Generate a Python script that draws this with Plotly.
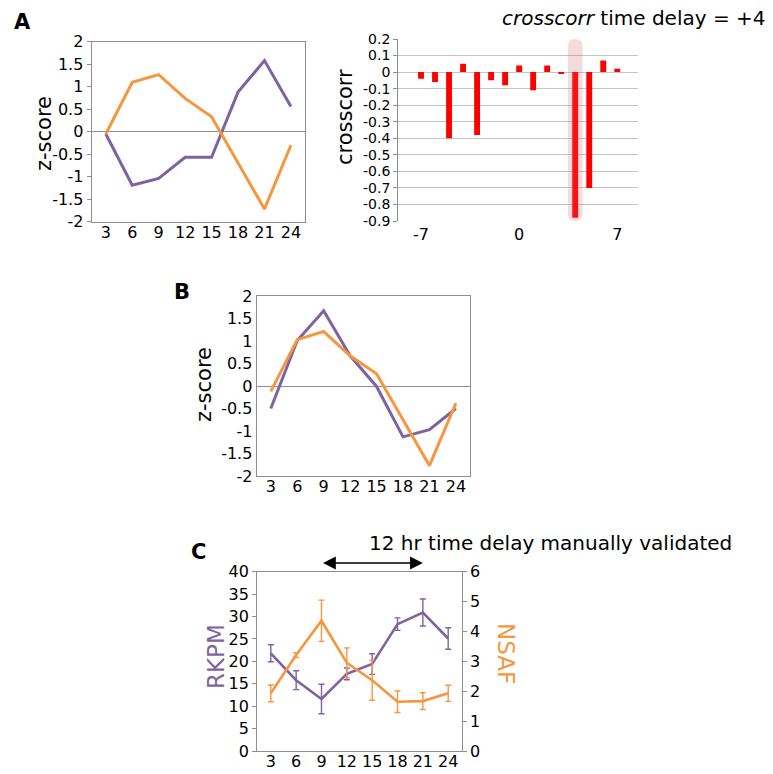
import plotly.graph_objects as go

# ---------------- data ----------------
hours = [3, 6, 9, 12, 15, 18, 21, 24]

a_purple = [-0.05, -1.19, -1.04, -0.57, -0.57, 0.88, 1.58, 0.56]
a_orange = [-0.05, 1.10, 1.27, 0.74, 0.33, -0.68, -1.72, -0.30]

lags = [-7, -6, -5, -4, -3, -2, -1, 0, 1, 2, 3, 4, 5, 6, 7]
crosscorr = [-0.04, -0.06, -0.40, 0.05, -0.38, -0.05, -0.08, 0.04,
             -0.11, 0.04, -0.01, -0.88, -0.70, 0.07, 0.02]
lag_ticks = [-7, 0, 7]
lag_ticktext = ["-7", "0", "7"]

b_purple = [-0.50, 1.01, 1.67, 0.67, -0.01, -1.13, -0.97, -0.50]
b_orange = [-0.12, 1.03, 1.21, 0.67, 0.27, -0.74, -1.77, -0.38]

rkpm = [21.8, 15.8, 11.6, 17.2, 19.4, 28.3, 30.9, 25.1]
rkpm_err = [1.9, 2.1, 3.3, 1.3, 2.3, 1.4, 3.0, 2.4]
nsaf = [1.93, 3.21, 4.36, 2.95, 2.37, 1.65, 1.67, 1.93]
nsaf_err = [0.28, 0.08, 0.69, 0.50, 0.67, 0.36, 0.28, 0.27]

z_ticks = [2, 1.5, 1, 0.5, 0, -0.5, -1, -1.5, -2]
z_ticktext = ["2", "1.5", "1", "0.5", "0", "-0.5", "-1", "-1.5", "-2"]
cc_ticks = [0.2, 0.1, 0, -0.1, -0.2, -0.3, -0.4, -0.5, -0.6, -0.7, -0.8, -0.9]
cc_ticktext = ["0.2", "0.1", "0", "-0.1", "-0.2", "-0.3", "-0.4", "-0.5",
               "-0.6", "-0.7", "-0.8", "-0.9"]

# ---------------- style ----------------
W, H = 773, 774
PURPLE = "#7f63a1"
ORANGE = "#f7963f"
AX = "#8f8f8f"
FONT = "DejaVu Sans"


def px(x):
    return x / W


def py(y):
    return 1 - y / H


fig = go.Figure()

# Panel A left
fig.add_trace(go.Scatter(x=hours, y=a_purple, mode="lines",
                         line=dict(color=PURPLE, width=3), xaxis="x", yaxis="y"))
fig.add_trace(go.Scatter(x=hours, y=a_orange, mode="lines",
                         line=dict(color=ORANGE, width=3), xaxis="x", yaxis="y"))

# Panel A right
fig.add_trace(go.Bar(x=lags, y=crosscorr, width=0.42, marker=dict(color="#ff0000", line=dict(width=0)),
                     xaxis="x2", yaxis="y2"))

# Panel B
fig.add_trace(go.Scatter(x=hours, y=b_purple, mode="lines",
                         line=dict(color=PURPLE, width=3), xaxis="x3", yaxis="y3"))
fig.add_trace(go.Scatter(x=hours, y=b_orange, mode="lines",
                         line=dict(color=ORANGE, width=3), xaxis="x3", yaxis="y3"))

# Panel C
fig.add_trace(go.Scatter(x=hours, y=rkpm, mode="lines",
                         line=dict(color=PURPLE, width=2.6),
                         error_y=dict(type="data", array=rkpm_err, color=PURPLE, thickness=1.4, width=3),
                         xaxis="x4", yaxis="y4"))
fig.add_trace(go.Scatter(x=hours, y=nsaf, mode="lines",
                         line=dict(color=ORANGE, width=2.6),
                         error_y=dict(type="data", array=nsaf_err, color=ORANGE, thickness=1.4, width=3),
                         xaxis="x4", yaxis="y5"))

tickfont = dict(family=FONT, size=16, color="black")
tickfont_cc = dict(family=FONT, size=14, color="black")
xr = [1.4, 25.6]

common_x = dict(tickvals=hours, ticks="", ticklen=0, ticklabelstandoff=-4,
                showgrid=False, zeroline=False, range=xr,
                showline=True, linecolor=AX, linewidth=1.3, mirror=True, tickfont=tickfont,
                fixedrange=True)

layout = dict(
    width=W, height=H, margin=dict(l=0, r=0, t=0, b=0, autoexpand=False),
    paper_bgcolor="white", plot_bgcolor="white", showlegend=False,
    font=dict(family=FONT, size=16, color="black"),
    # A left
    xaxis=dict(domain=[px(91.7), px(305)], anchor="y", **common_x),
    yaxis=dict(domain=[py(221.7), py(41.7)], anchor="x", range=[-2, 2],
               tickvals=z_ticks, ticktext=z_ticktext, ticks="outside", ticklen=4, tickcolor=AX,
               showgrid=False, zeroline=True, zerolinecolor=AX, zerolinewidth=1.3,
               showline=True, linecolor=AX, linewidth=1.3, mirror=True, tickfont=tickfont),
    # A right
    xaxis2=dict(domain=[px(398.3), px(638.3)], anchor="y2", range=[-8.62, 8.5],
                tickvals=lag_ticks, ticktext=lag_ticktext, ticks="", ticklen=0,
                ticklabelstandoff=2, showgrid=False,
                zeroline=False, showline=False, tickfont=tickfont),
    yaxis2=dict(domain=[py(221), py(39)], anchor="x2", range=[-0.9, 0.2],
                tickvals=cc_ticks, ticktext=cc_ticktext, ticks="outside", ticklen=4, tickcolor=AX,
                showgrid=True, gridcolor="#c4c4c4", gridwidth=1, zeroline=False,
                showline=True, linecolor=AX, linewidth=1.3, mirror=False, tickfont=tickfont_cc),
    # B
    xaxis3=dict(domain=[px(256.7), px(470)], anchor="y3", **common_x),
    yaxis3=dict(domain=[py(476), py(296)], anchor="x3", range=[-2, 2],
                tickvals=z_ticks, ticktext=z_ticktext, ticks="",
                showgrid=False, zeroline=True, zerolinecolor=AX, zerolinewidth=1.3,
                showline=True, linecolor=AX, linewidth=1.3, mirror=True, tickfont=tickfont),
    # C
    xaxis4=dict(domain=[px(257.3), px(461.7)], anchor="y4", **common_x),
    yaxis4=dict(domain=[py(751), py(571.7)], anchor="x4", range=[0, 40], dtick=5,
                ticks="outside", ticklen=4, tickcolor=AX, showgrid=False, zeroline=False,
                showline=True, linecolor=AX, linewidth=1.3, mirror=True, tickfont=tickfont),
    yaxis5=dict(overlaying="y4", side="right", anchor="x4", range=[0, 6], dtick=1,
                ticks="outside", ticklen=4, tickcolor=AX, showgrid=False, zeroline=False,
                showline=True, linecolor=AX, linewidth=1.3, tickfont=tickfont),
)
fig.update_layout(**layout)

# highlight of the best lag (rounded pale bar spanning the full y-range)
best = lags[crosscorr.index(min(crosscorr))]
y0, y1 = -0.9, 0.2
hx0, hx1 = best - 0.52, best + 0.52
rx, ry = 0.52, 0.045
path = (f"M {hx0} {y1 - ry} Q {hx0} {y1} {best} {y1} Q {hx1} {y1} {hx1} {y1 - ry} "
        f"L {hx1} {y0 + ry} Q {hx1} {y0} {best} {y0} Q {hx0} {y0} {hx0} {y0 + ry} Z")
fig.add_shape(type="path", path=path, xref="x2", yref="y2",
              fillcolor="rgba(205,90,100,0.22)", line=dict(width=0), layer="above")

ann = []
# panel letters
for letter, x, y in [("A", 22, 22), ("B", 182, 292), ("C", 198, 552)]:
    ann.append(dict(text=f"<b>{letter}</b>", x=px(x), y=py(y), xref="paper", yref="paper",
                    showarrow=False, xanchor="center", yanchor="middle",
                    font=dict(family=FONT, size=21, color="black")))
# axis titles
for t, x, y, ang, col, sz in [("z-score", 44, 134, -90, "black", 21),
                              ("crosscorr", 345, 117, -90, "black", 21),
                              ("z-score", 204, 385, -90, "black", 21),
                              ("RKPM", 216, 657, -90, PURPLE, 23),
                              ("NSAF", 506, 654, 90, ORANGE, 23)]:
    ann.append(dict(text=t, x=px(x), y=py(y), xref="paper", yref="paper", showarrow=False,
                    textangle=ang, xanchor="center", yanchor="middle",
                    font=dict(family=FONT, size=sz, color=col)))
# titles
ann.append(dict(text="<i>crosscorr</i> time delay = +4", x=px(768), y=py(18), xref="paper",
                yref="paper", showarrow=False, xanchor="right", yanchor="middle",
                font=dict(family=FONT, size=20, color="black")))
ann.append(dict(text="12 hr time delay manually validated", x=px(367), y=py(543), xref="paper",
                yref="paper", showarrow=False, xanchor="left", yanchor="middle",
                font=dict(family=FONT, size=20, color="black")))
# double arrow from 9 h to 21 h
ann.append(dict(text="", x=hours[6], y=py(563), xref="x4", yref="paper",
                ax=hours[2], ay=0, axref="x4", ayref="pixel",
                showarrow=True, arrowhead=2, arrowside="end+start", arrowsize=1.6,
                arrowwidth=1.6, arrowcolor="black", standoff=0, startstandoff=0))
fig.update_layout(annotations=ann)

fig.write_html("out.html", config={"displayModeBar": False},
               post_script="document.body.style.margin='0';")
